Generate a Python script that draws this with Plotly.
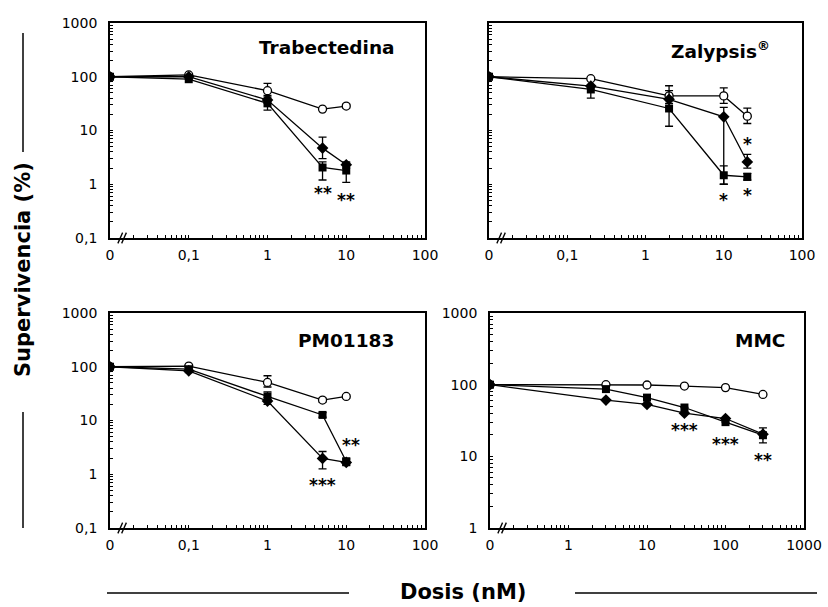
import math
import plotly.graph_objects as go

# ---------------- data ----------------
# Trabectedina
tr_dose = [0, 0.1, 1, 5, 10]
tr_circ = [100, 108, 55, 25, 28.5]
tr_circ_hi = [None, None, 75, None, 31]
tr_circ_lo = [None, None, 45, None, 26]
tr_diam = [100, 100, 37, 4.7, 2.3]
tr_diam_hi = [None, None, 42, 7.5, 2.6]
tr_diam_lo = [None, None, 32, 3.0, 2.0]
tr_sq = [100, 90, 32, 2.05, 1.8]
tr_sq_hi = [None, None, 38, 2.6, 2.5]
tr_sq_lo = [None, None, 24, 1.2, 1.08]
tr_star_x = [5, 10]
tr_star_y = [0.69, 0.5]
tr_star_t = ["**", "**"]

# Zalypsis
za_dose = [0, 0.2, 2, 10, 20]
za_circ = [100, 92, 44, 44, 18.5]
za_circ_hi = [None, None, 68, 62, 26]
za_circ_lo = [None, None, 38, 32, 13.5]
za_diam = [100, 67, 38, 18, 2.6]
za_diam_hi = [None, None, 55, 27, 3.6]
za_diam_lo = [None, None, 32, 1.0, 2.0]
za_sq = [100, 58, 25.7, 1.47, 1.37]
za_sq_hi = [None, 66, 40, 2.2, 1.6]
za_sq_lo = [None, 40, 12, 1.0, 1.2]
za_star_x = [20, 10, 20]
za_star_y = [5.7, 0.5, 0.63]
za_star_t = ["*", "*", "*"]

# PM01183
pm_dose = [0, 0.1, 1, 5, 10]
pm_circ = [100, 103, 51, 24, 28]
pm_circ_hi = [None, None, 68, 26, 30]
pm_circ_lo = [None, None, 42, 22, 26]
pm_diam = [100, 84, 23, 1.97, 1.66]
pm_diam_hi = [None, None, 27, 2.65, 1.9]
pm_diam_lo = [None, None, 20, 1.26, 1.45]
pm_sq = [100, 90, 28, 12.7, 1.73]
pm_sq_hi = [None, None, 34, 14, 2.0]
pm_sq_lo = [None, None, 24, 11.5, 1.5]
pm_star_x = [11.5, 5]
pm_star_y = [3.5, 0.64]
pm_star_t = ["**", "***"]

# MMC
mm_dose = [0, 3, 10, 30, 100, 300]
mm_circ = [100, 100, 99, 95.6, 91, 73]
mm_circ_hi = [None] * 6
mm_circ_lo = [None] * 6
mm_diam = [100, 61, 53, 40, 33.7, 20.4]
mm_diam_hi = [None] * 6
mm_diam_lo = [None] * 6
mm_sq = [100, 86.7, 66, 48, 30, 19.7]
mm_sq_hi = [None, None, None, None, None, 25]
mm_sq_lo = [None, None, None, None, None, 15.4]
mm_star_x = [30, 100, 300]
mm_star_y = [23.6, 14.8, 9]
mm_star_t = ["***", "***", "**"]

titles = ["Trabectedina", "Zalypsis<sup>®</sup>", "PM01183", "MMC"]
y_label = "Supervivencia (%)"
x_label = "Dosis (nM)"

FONT = "DejaVu Sans, Verdana, sans-serif"

panels = [
    dict(dose=tr_dose, zero=0.01, series=[(tr_circ, tr_circ_hi, tr_circ_lo),
                                          (tr_diam, tr_diam_hi, tr_diam_lo),
                                          (tr_sq, tr_sq_hi, tr_sq_lo)],
         stars=(tr_star_x, tr_star_y, tr_star_t),
         xdom=[110, 425], ydom=[23, 238], xr=[-2, 2], yr=[-1, 3], ylabels=True,
         title=titles[0], tpos=(0.911, 0.884)),
    dict(dose=za_dose, zero=0.01, series=[(za_circ, za_circ_hi, za_circ_lo),
                                          (za_diam, za_diam_hi, za_diam_lo),
                                          (za_sq, za_sq_hi, za_sq_lo)],
         stars=(za_star_x, za_star_y, za_star_t),
         xdom=[489, 802], ydom=[23, 238], xr=[-2, 2], yr=[-1, 3], ylabels=False,
         title=titles[1], tpos=(0.904, 0.874)),
    dict(dose=pm_dose, zero=0.01, series=[(pm_circ, pm_circ_hi, pm_circ_lo),
                                          (pm_diam, pm_diam_hi, pm_diam_lo),
                                          (pm_sq, pm_sq_hi, pm_sq_lo)],
         stars=(pm_star_x, pm_star_y, pm_star_t),
         xdom=[110, 425], ydom=[313, 528], xr=[-2, 2], yr=[-1, 3], ylabels=True,
         title=titles[2], tpos=(0.908, 0.870)),
    dict(dose=mm_dose, zero=0.1, series=[(mm_circ, mm_circ_hi, mm_circ_lo),
                                         (mm_diam, mm_diam_hi, mm_diam_lo),
                                         (mm_sq, mm_sq_hi, mm_sq_lo)],
         stars=(mm_star_x, mm_star_y, mm_star_t),
         xdom=[490, 804], ydom=[313, 528], xr=[-1, 3], yr=[0, 3], ylabels=True,
         title=titles[3], tpos=(0.946, 0.874)),
]

W, H = 828, 607
marker_styles = [
    dict(symbol="circle", size=8, color="white", line=dict(color="black", width=1.3)),
    dict(symbol="diamond", size=9, color="black", line=dict(color="black", width=0)),
    dict(symbol="square", size=8, color="black", line=dict(color="black", width=0)),
]


def fmt(v):
    if v >= 1:
        return str(int(round(v)))
    return ("%g" % v).replace(".", ",")


def log_ticks(lo_exp, hi_exp, zero_pos=None):
    vals, texts = [], []
    for e in range(lo_exp, hi_exp + 1):
        base = 10.0 ** e
        vals.append(base)
        if zero_pos is not None and abs(base - zero_pos) < 1e-12:
            texts.append("0")
        else:
            texts.append(fmt(base))
        if e < hi_exp:
            for m in range(2, 10):
                vals.append(m * base)
                texts.append("")
    return vals, texts


fig = go.Figure()
layout = dict()
for i, p in enumerate(panels):
    k = "" if i == 0 else str(i + 1)
    xa, ya = "x" + k, "y" + k
    xs = [p["zero"] if d == 0 else d for d in p["dose"]]
    for s, (vals, hi, lo) in enumerate(p["series"]):
        up = [None if h is None else h - v for h, v in zip(hi, vals)]
        dn = [None if l is None else v - l for l, v in zip(lo, vals)]
        fig.add_trace(go.Scatter(
            x=xs, y=vals, mode="lines+markers", xaxis=xa, yaxis=ya,
            line=dict(color="black", width=1.3),
            marker=marker_styles[s],
            error_y=dict(type="data", symmetric=False, array=up, arrayminus=dn,
                         color="black", thickness=1.3, width=4),
            showlegend=False, hoverinfo="skip"))
    sx, sy, st = p["stars"]
    for x_, y_, t_ in zip(sx, sy, st):
        fig.add_annotation(x=math.log10(x_), y=math.log10(y_),
                           xref=xa, yref=ya, text="<b>%s</b>" % t_, showarrow=False,
                           xanchor="center", yanchor="middle",
                           font=dict(family=FONT, size=17, color="black"))
    fig.add_annotation(x=p["tpos"][0], y=p["tpos"][1], xref=xa + " domain", yref=ya + " domain",
                       text="<b>%s</b>" % p["title"], showarrow=False, xanchor="right",
                       yanchor="middle", font=dict(family=FONT, size=18.5, color="black"))
    # axis break marks "//"
    for off in (0.0, 0.012):
        fig.add_shape(type="line", xref=xa + " domain", yref=ya + " domain",
                      x0=0.025 + off, y0=-0.025, x1=0.040 + off, y1=0.025,
                      line=dict(color="black", width=1.3))
    xtv, xtt = log_ticks(p["xr"][0], p["xr"][1], zero_pos=p["zero"])
    ytv, ytt = log_ticks(p["yr"][0], p["yr"][1])
    if not p["ylabels"]:
        ytt = [""] * len(ytt)
    layout["xaxis" + k] = dict(
        type="log", range=p["xr"], domain=[p["xdom"][0] / W, p["xdom"][1] / W],
        anchor=ya, tickmode="array", tickvals=xtv, ticktext=xtt, automargin=False,
        tickangle=0,
        ticks="inside", ticklen=3, tickwidth=1, tickcolor="black",
        showline=True, linecolor="black", linewidth=1.8, mirror=True,
        showgrid=False, zeroline=False,
        tickfont=dict(family=FONT, size=14, color="black"), ticklabelstandoff=3)
    layout["yaxis" + k] = dict(
        type="log", range=p["yr"], domain=[1 - p["ydom"][1] / H, 1 - p["ydom"][0] / H],
        anchor=xa, tickmode="array", tickvals=ytv, ticktext=ytt, automargin=False,
        tickangle=0,
        ticks="inside", ticklen=3, tickwidth=1, tickcolor="black",
        showline=True, linecolor="black", linewidth=1.8, mirror=True,
        showgrid=False, zeroline=False,
        tickfont=dict(family=FONT, size=14, color="black"), ticklabelstandoff=8)

# global labels
fig.add_annotation(x=23 / W, y=1 - 270 / H, xref="paper", yref="paper", text="<b>%s</b>" % y_label,
                   textangle=-90, showarrow=False, xanchor="center", yanchor="middle",
                   font=dict(family=FONT, size=21, color="black"))
fig.add_annotation(x=463 / W, y=1 - 592 / H, xref="paper", yref="paper", text="<b>%s</b>" % x_label,
                   showarrow=False, xanchor="center", yanchor="middle",
                   font=dict(family=FONT, size=21, color="black"))
for (x0, y0, x1, y1) in [(23, 33, 23, 152), (23, 412, 23, 528), (107, 593, 349, 593), (575, 593, 817, 593)]:
    fig.add_shape(type="line", xref="paper", yref="paper", x0=x0 / W, x1=x1 / W,
                  y0=1 - y0 / H, y1=1 - y1 / H, line=dict(color="black", width=1.5))

fig.update_layout(**layout)
fig.update_layout(width=W, height=H, margin=dict(l=0, r=0, t=0, b=0, autoexpand=False),
                  plot_bgcolor="white", paper_bgcolor="white", showlegend=False)
fig.write_html("out.html")
